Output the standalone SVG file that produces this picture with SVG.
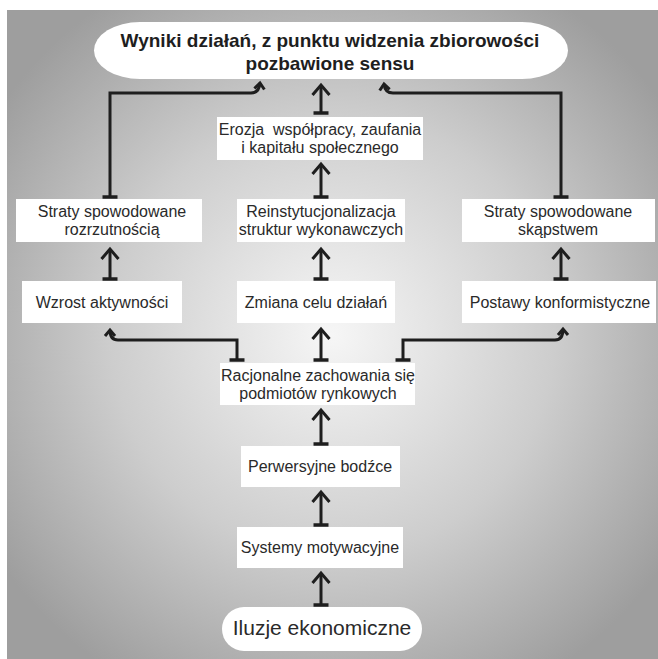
<svg xmlns="http://www.w3.org/2000/svg" width="658" height="659" viewBox="0 0 658 659">
<defs>
<radialGradient id="bg" cx="0.5" cy="0.5" r="0.62">
<stop offset="0" stop-color="#f6f6f6"/>
<stop offset="0.55" stop-color="#cdcdcd"/>
<stop offset="1" stop-color="#9e9e9e"/>
</radialGradient>
<marker id="head" markerUnits="userSpaceOnUse" orient="auto" markerWidth="24" markerHeight="24" viewBox="-14 -12 18 24" refX="0" refY="0">
<path d="M-10,-8.5 L0,0 L-10,8.5" fill="none" stroke="#1e1e1e" stroke-width="3"/>
</marker>
<marker id="small" markerUnits="userSpaceOnUse" orient="auto" markerWidth="16" markerHeight="16" viewBox="-10 -8 12 16" refX="0" refY="0">
<path d="M-6,-5 L0,0 L-6,5" fill="none" stroke="#1e1e1e" stroke-width="3"/>
</marker>
<marker id="tee" markerUnits="userSpaceOnUse" orient="auto" markerWidth="20" markerHeight="20" viewBox="-4 -10 8 20" refX="0" refY="0">
<path d="M0,-7.5 L0,7.5" stroke="#1e1e1e" stroke-width="3.5"/>
</marker>
</defs>
<style>
.box{fill:#ffffff}
.t{font-family:"Liberation Sans",Arial,sans-serif;font-size:16px;fill:#2a2a2a;text-anchor:middle}
.big{font-size:19px;font-weight:bold;fill:#1e1e1e}
.il{font-size:21px}
.c{fill:none;stroke:#1e1e1e;stroke-width:3}
.v{marker-start:url(#tee);marker-end:url(#head)}
.b{marker-start:url(#tee);marker-end:url(#small)}
</style>
<rect x="0" y="0" width="658" height="659" fill="#ffffff"/>
<rect x="7" y="10" width="651" height="649" fill="url(#bg)"/>

<g id="connectors">
<path class="c v" d="M321,113 V85"/>
<path class="c v" d="M321,197 V164"/>
<path class="c v" d="M110,279 V249"/>
<path class="c v" d="M321,279 V249"/>
<path class="c v" d="M561,279 V249"/>
<path class="c v" d="M321,360 V329"/>
<path class="c v" d="M321,444 V410"/>
<path class="c v" d="M321,525 V492"/>
<path class="c v" d="M321,605 V573"/>
<path class="c b" d="M110,197 V93 H251 Q259,93 260,83"/>
<path class="c b" d="M561,197 V93 H393 Q385,93 384,84"/>
<path class="c b" d="M237,360 V340 H118 Q110,340 110,330"/>
<path class="c b" d="M403,360 V340 H555 Q563,340 563,329"/>
</g>

<g id="wyniki">
<rect class="box" x="94" y="22" width="474" height="57" rx="46" ry="28.5"/>
<text class="t big" x="330" y="47">Wyniki działań, z punktu widzenia zbiorowości</text>
<text class="t big" x="330" y="70">pozbawione sensu</text>
</g>
<g id="erozja">
<rect class="box" x="217" y="117" width="206" height="43"/>
<text class="t" x="320" y="135" style="white-space:pre">Erozja  współpracy, zaufania</text>
<text class="t" x="320" y="153">i kapitału społecznego</text>
</g>
<g id="straty-rozrzutnosc">
<rect class="box" x="16" y="199" width="186" height="43"/>
<text class="t" x="112" y="217">Straty spowodowane</text>
<text class="t" x="112" y="235">rozrzutnością</text>
</g>
<g id="reinstytucjonalizacja">
<rect class="box" x="237" y="199" width="168" height="43"/>
<text class="t" x="321" y="217">Reinstytucjonalizacja</text>
<text class="t" x="321" y="235">struktur wykonawczych</text>
</g>
<g id="straty-skapstwo">
<rect class="box" x="462" y="199" width="193" height="43"/>
<text class="t" x="558" y="217">Straty spowodowane</text>
<text class="t" x="558" y="235">skąpstwem</text>
</g>
<g id="wzrost">
<rect class="box" x="22" y="281" width="160" height="42"/>
<text class="t" x="102" y="308">Wzrost aktywności</text>
</g>
<g id="zmiana">
<rect class="box" x="237" y="281" width="158" height="42"/>
<text class="t" x="316" y="308">Zmiana celu działań</text>
</g>
<g id="postawy">
<rect class="box" x="462" y="281" width="194" height="42"/>
<text class="t" x="560" y="308">Postawy konformistyczne</text>
</g>
<g id="racjonalne">
<rect class="box" x="220" y="363" width="195" height="42"/>
<text class="t" x="318" y="381">Racjonalne zachowania się</text>
<text class="t" x="318" y="399">podmiotów rynkowych</text>
</g>
<g id="perwersyjne">
<rect class="box" x="241" y="446" width="159" height="41"/>
<text class="t" x="320" y="472">Perwersyjne bodźce</text>
</g>
<g id="systemy">
<rect class="box" x="237" y="527" width="166" height="41"/>
<text class="t" x="320" y="553">Systemy motywacyjne</text>
</g>
<g id="iluzje">
<rect class="box" x="222" y="607" width="200" height="44" rx="22" ry="22"/>
<text class="t il" x="322" y="635">Iluzje ekonomiczne</text>
</g>
</svg>
